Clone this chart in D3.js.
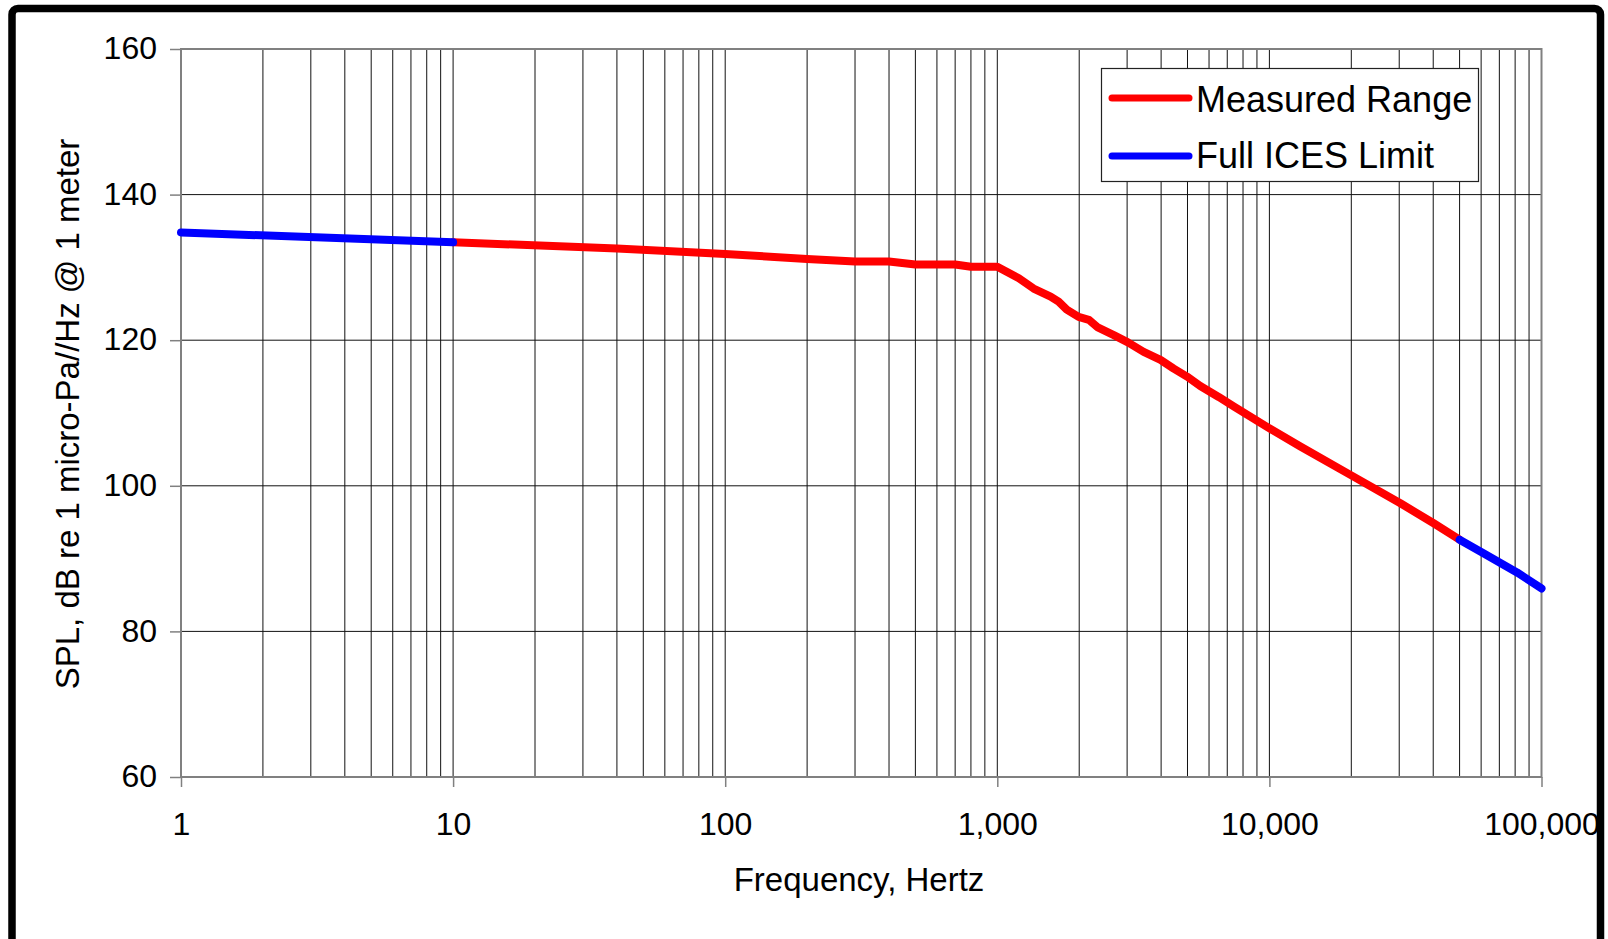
<!DOCTYPE html>
<html>
<head>
<meta charset="utf-8">
<script src="https://cdn.jsdelivr.net/npm/d3@7"></script>
<style>
  html, body { margin: 0; padding: 0; background: #ffffff; }
  svg { display: block; }
  text { font-family: "Liberation Sans", Arial, sans-serif; fill: #000; }
</style>
</head>
<body>
<svg id="chart" width="1608" height="939"></svg>
<script>
// ---- Data ----
const lowLimitFreq = [1, 10];
const lowLimitDb   = [134.8, 133.45];

const measuredFreq = [10, 40, 100, 200, 300, 400, 500, 700, 800, 1000,
  1200, 1360, 1570, 1680, 1800, 1990, 2170, 2330, 2680, 3020, 3450, 3980,
  4450, 4980, 5570, 6510, 7390, 9800, 13000, 19850, 30300, 40150, 50000];
const measuredDb = [133.45, 132.6, 131.85, 131.15, 130.8, 130.8, 130.4, 130.4, 130.1, 130.1,
  128.5, 127.1, 126.0, 125.3, 124.2, 123.2, 122.8, 121.8, 120.7, 119.7, 118.4, 117.3,
  116.1, 115.0, 113.7, 112.2, 110.9, 108.1, 105.4, 101.5, 97.6, 94.85, 92.6];

const highLimitFreq = [50000, 61400, 81300, 100000];
const highLimitDb   = [92.6, 90.7, 88.1, 85.9];

const xTickValues = [1, 10, 100, 1000, 10000, 100000];
const yTickValues = [60, 80, 100, 120, 140, 160];
const seriesNames = ["Measured Range", "Full ICES Limit"];
const seriesColors = ["#ff0000", "#0000ff"];
const xTitle = "Frequency, Hertz";
const yTitle = "SPL, dB re 1 micro-Pa//Hz @ 1 meter";

// ---- Layout ----
const svg = d3.select("#chart");
const plot = { left: 181, right: 1541.5, top: 49, bottom: 777 };

const x = d3.scaleLog().domain([1, 100000]).range([plot.left, plot.right]);
const y = d3.scaleLinear().domain([60, 160]).range([plot.bottom, plot.top]);

// Background inside frame
svg.append("rect")
  .attr("x", 12).attr("y", 8.5)
  .attr("width", 1588.5).attr("height", 936)
  .attr("rx", 6)
  .attr("fill", "#fff");

// Grid: vertical minor/major lines
const gridX = [];
for (let d = 1; d < 100000; d *= 10) {
  for (let m = 1; m <= 9; m++) gridX.push(d * m);
}
gridX.push(100000);

svg.append("g").selectAll("line").data(gridX).join("line")
  .attr("x1", d => x(d)).attr("x2", d => x(d))
  .attr("y1", plot.top).attr("y2", plot.bottom)
  .attr("stroke", "#111").attr("stroke-width", 1);

svg.append("g").selectAll("line").data(yTickValues.slice(1, -1)).join("line")
  .attr("x1", plot.left).attr("x2", plot.right)
  .attr("y1", d => y(d)).attr("y2", d => y(d))
  .attr("stroke", "#111").attr("stroke-width", 1);

// Plot border
svg.append("rect")
  .attr("x", plot.left).attr("y", plot.top)
  .attr("width", plot.right - plot.left).attr("height", plot.bottom - plot.top)
  .attr("fill", "none").attr("stroke", "#808080").attr("stroke-width", 2);

// Axes
const xAxis = svg.append("g")
  .attr("transform", `translate(0,${plot.bottom})`)
  .call(d3.axisBottom(x).tickValues(xTickValues).tickSize(10).tickFormat(d3.format(",")));
xAxis.select(".domain").remove();
xAxis.selectAll(".tick line").attr("stroke", "#808080").attr("stroke-width", 1.5);
xAxis.selectAll(".tick text")
  .attr("y", 58).attr("dy", 0)
  .style("font-size", "32px").style("font-family", "'Liberation Sans', Arial, sans-serif")
  .attr("fill", "#000");

const yAxis = svg.append("g")
  .attr("transform", `translate(${plot.left},0)`)
  .call(d3.axisLeft(y).tickValues(yTickValues).tickSize(11));
yAxis.select(".domain").remove();
yAxis.selectAll(".tick line").attr("stroke", "#808080").attr("stroke-width", 1.5);
yAxis.selectAll(".tick text")
  .attr("x", -24).attr("dy", "0.3em")
  .style("font-size", "32px").style("font-family", "'Liberation Sans', Arial, sans-serif")
  .attr("fill", "#000");

// Axis titles
svg.append("text")
  .attr("x", 859).attr("y", 891)
  .attr("text-anchor", "middle")
  .style("font-size", "33px")
  .text(xTitle);

svg.append("text")
  .attr("transform", "translate(79,414) rotate(-90)")
  .attr("text-anchor", "middle")
  .style("font-size", "33px")
  .text(yTitle);

// Lines
const line = d3.line().x(d => x(d[0])).y(d => y(d[1]));
const zip = (a, b) => a.map((v, i) => [v, b[i]]);

const seriesData = [
  { pts: zip(measuredFreq, measuredDb), color: seriesColors[0] },
  { pts: zip(lowLimitFreq, lowLimitDb), color: seriesColors[1] },
  { pts: zip(highLimitFreq, highLimitDb), color: seriesColors[1] }
];

svg.append("g").selectAll("path").data(seriesData).join("path")
  .attr("d", d => line(d.pts))
  .attr("fill", "none")
  .attr("stroke", d => d.color)
  .attr("stroke-width", 8)
  .attr("stroke-linejoin", "round")
  .attr("stroke-linecap", "round");

// Legend
const legend = svg.append("g");
legend.append("rect")
  .attr("x", 1101.5).attr("y", 68.5)
  .attr("width", 377).attr("height", 113)
  .attr("fill", "#fff").attr("stroke", "#222").attr("stroke-width", 1.2);

const legendRows = [
  { name: seriesNames[0], color: seriesColors[0], ly: 98, ty: 112 },
  { name: seriesNames[1], color: seriesColors[1], ly: 156, ty: 168 }
];
legendRows.forEach(r => {
  legend.append("line")
    .attr("x1", 1112).attr("x2", 1189)
    .attr("y1", r.ly).attr("y2", r.ly)
    .attr("stroke", r.color).attr("stroke-width", 7)
    .attr("stroke-linecap", "round");
  legend.append("text")
    .attr("x", 1196).attr("y", r.ty)
    .style("font-size", "36px")
    .text(r.name);
});

// Outer frame stroke drawn on top (clips the last tick label as in the reference)
svg.append("rect")
  .attr("x", 12).attr("y", 8.5)
  .attr("width", 1588.5).attr("height", 936)
  .attr("rx", 6)
  .attr("fill", "none")
  .attr("stroke", "#000").attr("stroke-width", 7.5);
</script>
</body>
</html>
